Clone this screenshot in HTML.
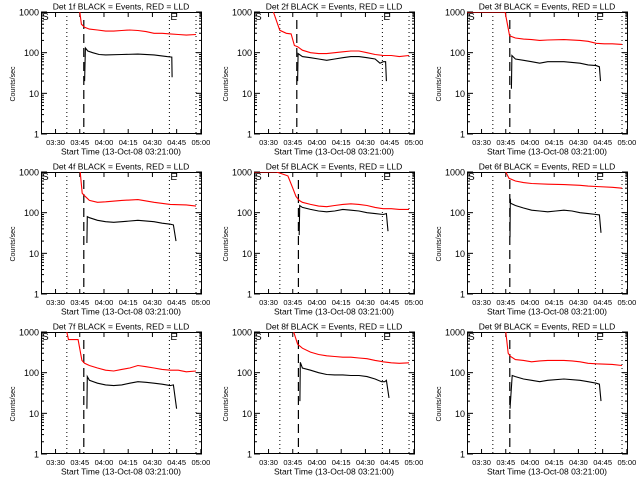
<!DOCTYPE html>
<html><head><meta charset="utf-8"><style>
html,body{margin:0;padding:0;background:#fff;}
svg{display:block;font-family:"Liberation Sans",sans-serif;}
</style></head><body>
<svg id="chart" width="640" height="480" viewBox="0 0 640 480" xmlns="http://www.w3.org/2000/svg">
<rect width="640" height="480" fill="#fff"/>
</svg>
<script>
// ---- data (minutes since 03:21:00, counts/sec) ----
const detNames = ["1f","2f","3f","4f","5f","6f","7f","8f","9f"];
const xTickLabels = ["03:30","03:45","04:00","04:15","04:30","04:45","05:00"];
const xTickMinutes = [9,24,39,54,69,84,99];
const yTickValues = [1,10,100,1000];
const yTickLabels = ["1","10","100","1000"];
const dottedMinutes = [16,79.5,96];
const dashedMinutes = [26.5,26.5,26.5,26.5,27.5,26.5,26.5,27.5,26.5];

const red1T = [22,24,25,27,30,35,40,45,50,55,60,65,70,75,80,85,90,96];
const red1V = [1500,1000,500,420,380,360,340,340,350,360,350,330,300,300,290,280,270,280];
const blk1T = [27,27.5,29,32,36,40,50,60,70,78,81,81.2];
const blk1V = [20,130,110,100,90,88,90,92,88,80,78,25];

const red2T = [10,12,16,20,23,25,27,30,35,40,45,50,55,60,65,70,75,80,85,90,96];
const red2V = [1500,1000,355,300,290,150,140,115,100,95,95,100,105,110,110,100,90,85,85,80,85];
const blk2T = [27,27.3,30,35,40,45,50,55,60,65,70,75,78,80,81.5,82];
const blk2V = [20,95,80,75,70,65,70,75,80,80,75,70,55,60,60,20];

const red3T = [0,23.6,26.4,30,35,40,45,50,60,70,75,80,85,90,96];
const red3V = [1000,1000,260,230,215,210,200,205,210,200,190,170,165,165,160];
const blk3T = [27.5,27.8,30,35,40,45,50,60,70,75,80,82,82.7];
const blk3V = [13,85,70,65,60,55,60,60,55,50,48,45,20];

const red4T = [22,24.3,25.5,27,30,35,40,50,60,65,70,80,90,96];
const red4V = [1500,1000,300,260,200,180,185,200,210,195,180,160,155,145];
const blk4T = [28.4,28.7,30,35,40,45,50,60,70,75,80,82,83.6];
const blk4V = [18,80,75,65,60,58,60,65,60,55,52,50,20];

const red5T = [0,14,21,24,26,28,30,35,40,45,50,55,60,65,70,75,80,85,90,96];
const red5V = [1000,1000,800,400,250,200,180,160,145,140,150,160,165,160,150,135,125,125,120,120];
const blk5T = [28,28.3,30,35,40,45,50,55,60,65,70,75,80,82,83];
const blk5V = [28,150,135,120,110,105,110,120,115,110,100,95,90,95,35];

const red6T = [22,24,26,30,35,40,50,60,70,75,80,90,96];
const red6V = [1500,1000,700,600,550,520,500,490,470,450,440,420,400];
const blk6T = [26.6,26.8,27,30,35,40,45,50,55,60,65,70,75,80,82,83];
const blk6V = [25,220,170,150,130,115,110,105,110,115,110,100,95,90,88,32];

const red7T = [14,16,17,23,25.3,27,30,35,40,45,50,55,60,65,70,75,80,85,90,96];
const red7V = [1500,1000,650,650,200,170,150,130,115,110,120,130,150,140,130,120,115,115,105,110];
const blk7T = [28.4,28.7,30,35,40,45,50,55,60,65,70,75,80,82,84];
const blk7V = [13,80,65,55,50,48,50,55,60,58,55,52,48,50,13];

const red8T = [23,24.6,27,30,35,40,45,50,55,60,65,70,75,80,85,90,96];
const red8V = [1500,1000,500,400,320,280,260,250,240,240,230,220,200,185,175,170,175];
const blk8T = [28.4,28.7,30,35,40,45,50,55,60,65,70,75,79,81,82,83.6];
const blk8V = [20,180,130,115,100,90,88,88,85,85,80,70,60,60,65,24];

const red9T = [22,24,25.5,27,30,35,40,45,50,60,65,70,75,80,90,96];
const red9V = [1500,1000,300,250,210,200,185,195,200,200,195,185,170,165,160,150];
const blk9T = [26.6,28,30,35,40,45,50,60,70,75,80,82,83];
const blk9V = [13,85,80,70,65,60,65,70,65,60,55,52,20];

const redTs = [red1T,red2T,red3T,red4T,red5T,red6T,red7T,red8T,red9T];
const redVs = [red1V,red2V,red3V,red4V,red5V,red6V,red7V,red8V,red9V];
const blkTs = [blk1T,blk2T,blk3T,blk4T,blk5T,blk6T,blk7T,blk8T,blk9T];
const blkVs = [blk1V,blk2V,blk3V,blk4V,blk5V,blk6V,blk7V,blk8V,blk9V];

// ---- layout ----
const NS = "http://www.w3.org/2000/svg";
const svg = document.getElementById("chart");
const L = 41, R = 202, T = 12, B = 134;
const xMax = 99.7;
function xs(t){ return L + t * (R - L) / xMax; }
function ys(v){ return B - Math.log10(v) * (B - T) / 3; }
function mk(tag, attrs, parent){
  const e = document.createElementNS(NS, tag);
  for (const k in attrs) e.setAttribute(k, attrs[k]);
  parent.appendChild(e);
  return e;
}

for (let p = 0; p < 9; p++){
  const col = p % 3, row = Math.floor(p / 3);
  const g = mk("g", {transform: "translate(" + (col*213) + "," + (row*160) + ")"}, svg);
  
  

  const clipId = "clip" + p;
  const cp = mk("clipPath", {id: clipId}, g);
  mk("rect", {x: L, y: T, width: R-L, height: B-T}, cp);

  const title = mk("text", {x: 121, y: 9.5, "font-size": "8.5", "text-anchor": "middle", fill: "#000"}, g);
  title.textContent = "Det " + detNames[p] + " BLACK = Events, RED = LLD";
  
  

  const frame = mk("rect", {x: L+0.5, y: T+0.5, width: R-L-1, height: B-T-1, fill: "none", stroke: "#000", "stroke-width": "1"}, g);
  
  

  for (let d = 0; d < yTickValues.length; d++){
    const y = ys(yTickValues[d]);
    mk("line", {x1: L, x2: L+6, y1: y, y2: y, stroke: "#000"}, g);
    mk("line", {x1: R-6, x2: R, y1: y, y2: y, stroke: "#000"}, g);
    const lab = mk("text", {x: 39, y: y + 3.5, "font-size": "9", "text-anchor": "end", fill: "#000"}, g);
    lab.textContent = yTickLabels[d];
    
    
    if (d < yTickValues.length - 1){
      for (let m = 2; m < 10; m++){
        const ym = ys(yTickValues[d] * m);
        mk("line", {x1: L, x2: L+3, y1: ym, y2: ym, stroke: "#000"}, g);
        mk("line", {x1: R-3, x2: R, y1: ym, y2: ym, stroke: "#000"}, g);
      }
    }
  }
  for (let i = 0; i < xTickMinutes.length; i++){
    const x = xs(xTickMinutes[i]);
    mk("line", {x1: x, x2: x, y1: B, y2: B-5, stroke: "#000"}, g);
    mk("line", {x1: x, x2: x, y1: T, y2: T+5, stroke: "#000"}, g);
    const lab = mk("text", {x: x, y: 145, "font-size": "7.5", "text-anchor": "middle", fill: "#000"}, g);
    lab.textContent = xTickLabels[i];
    
    
  }
  const xt = mk("text", {x: 121, y: 154.5, "font-size": "8.5", "text-anchor": "middle", fill: "#000"}, g);
  xt.textContent = "Start Time (13-Oct-08 03:21:00)";
  
  
  const yt = mk("text", {x: 0, y: 0, "font-size": "7", "text-anchor": "middle", fill: "#000", transform: "translate(15,84) rotate(-90)"}, g);
  yt.textContent = "Counts/sec";
  
  

  for (const m of dottedMinutes){
    const ln = mk("line", {x1: xs(m), x2: xs(m), y1: T, y2: B, stroke: "#000", "stroke-dasharray": "1,3"}, g);
    
    
  }
  const dl = mk("line", {x1: xs(dashedMinutes[p]), x2: xs(dashedMinutes[p]), y1: T+8, y2: B, stroke: "#000", "stroke-width": "1.2", "stroke-dasharray": "9,5"}, g);
  
  
  const s = mk("text", {x: L+1, y: T+8, "font-size": "10", fill: "#000"}, g);
  s.textContent = "S";
  
  
  const e = mk("text", {x: xs(dottedMinutes[1])+1, y: T+8, "font-size": "10", fill: "#000"}, g);
  e.textContent = "E";
  
  

  const redPts = redTs[p].map((t,i) => xs(t).toFixed(1) + "," + ys(redVs[p][i]).toFixed(1)).join(" ");
  const rl = mk("polyline", {points: redPts, fill: "none", stroke: "#ff0000", "stroke-width": "1.1", "clip-path": "url(#" + clipId + ")"}, g);
  
  
  const blkPts = blkTs[p].map((t,i) => xs(t).toFixed(1) + "," + ys(blkVs[p][i]).toFixed(1)).join(" ");
  const bl = mk("polyline", {points: blkPts, fill: "none", stroke: "#000", "stroke-width": "1.1", "clip-path": "url(#" + clipId + ")"}, g);
  
  
}
</script>
</body></html>
